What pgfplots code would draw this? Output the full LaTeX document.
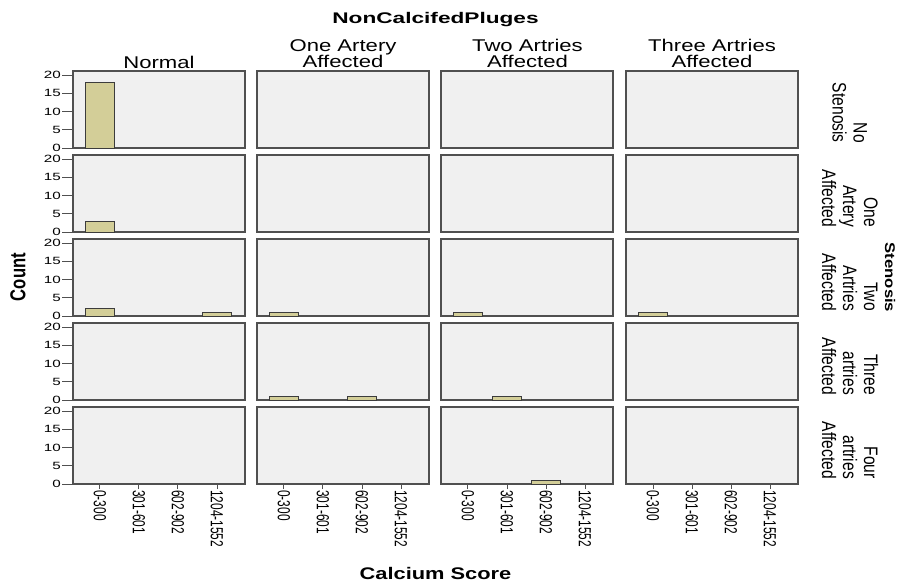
\documentclass[border=0pt]{standalone}
\usepackage{fontspec}
\setmainfont{Liberation Sans}
\usepackage{pgfplots}
\pgfplotsset{compat=1.18}
\newfontfamily\fA[FakeStretch=1.3]{Liberation Sans}
\newfontfamily\fB[FakeStretch=1.47]{Liberation Sans}
\newfontfamily\fY[FakeStretch=1.45]{Liberation Sans}
\newfontfamily\fR[FakeStretch=0.8]{Liberation Sans}
\newfontfamily\fC[FakeStretch=0.77]{Liberation Sans}
\newfontfamily\fX[FakeStretch=0.68]{Liberation Sans}
\newfontfamily\fS[FakeStretch=1.19]{Liberation Sans}
\definecolor{panelbg}{RGB}{240,240,240}
\definecolor{frame}{RGB}{80,80,80}
\definecolor{barfill}{RGB}{211,206,152}
\definecolor{bardraw}{RGB}{60,60,60}
\pgfplotsset{
  panel/.style={scale only axis, width=172pt, height=77pt,
    xmin=-0.692, xmax=3.718, ymin=0, ymax=21.1,
    axis background/.style={fill=panelbg},
    axis line style={draw=frame, line width=1.5pt},
    xtick=\empty, ytick=\empty, ybar, bar width=29pt,
    anchor=north west, clip=false},
  bars/.style={fill=barfill, draw=bardraw, line width=1pt},
  yt/.style={ytick={0,5,10,15,20}, ytick pos=left, tick align=outside, major tick length=11pt,
    ytick style={draw=frame, line width=1pt},
    yticklabel style={font=\fY\fontsize{10.5}{10.5}\selectfont, inner sep=1pt,
      /pgf/number format/assume math mode=true}},
  xtax/.style={scale only axis, width=172pt, height=77pt,
    xmin=-0.692, xmax=3.718, ymin=0, ymax=21.1, anchor=north west,
    axis line style={draw=none}, ytick=\empty,
    xtick={0,1,2,3}, xticklabels={0-300,301-601,602-902,1204-1552},
    xtick pos=bottom, tick align=outside, major tick length=5pt,
    xtick style={draw=frame, line width=1pt},
    xticklabel style={font=\fX\fontsize{17.5}{17.5}\selectfont, rotate=-90, anchor=west, inner sep=1pt}},
}
\newcommand{\pnl}[4]{\begin{axis}[panel, at={(#1pt,-#2pt)}, #3] #4 \end{axis}}
\newcommand{\xtx}[2]{\begin{axis}[xtax, at={(#1pt,-#2pt)}] \end{axis}}
\def\ct{\fA\fontsize{17}{17}\selectfont}
\def\rl{\fR\fontsize{19.5}{19.5}\selectfont}
\begin{document}
\begin{tikzpicture}
% row 1
\pnl{73}{71}{yt}{\addplot[bars] coordinates {(0,18)};}
\pnl{257}{71}{}{}
\pnl{441}{71}{}{}
\pnl{626}{71}{}{}
% row 2
\pnl{73}{155}{yt}{\addplot[bars] coordinates {(0,3)};}
\pnl{257}{155}{}{}
\pnl{441}{155}{}{}
\pnl{626}{155}{}{}
% row 3
\pnl{73}{239}{yt}{\addplot[bars] coordinates {(0,2) (3,1)};}
\pnl{257}{239}{}{\addplot[bars] coordinates {(0,1)};}
\pnl{441}{239}{}{\addplot[bars] coordinates {(0,1)};}
\pnl{626}{239}{}{\addplot[bars] coordinates {(0,1)};}
% row 4
\pnl{73}{323}{yt}{}
\pnl{257}{323}{}{\addplot[bars] coordinates {(0,1) (2,1)};}
\pnl{441}{323}{}{\addplot[bars] coordinates {(1,1)};}
\pnl{626}{323}{}{}
% row 5
\pnl{73}{407}{yt}{}
\pnl{257}{407}{}{}
\pnl{441}{407}{}{\addplot[bars] coordinates {(2,1)};}
\pnl{626}{407}{}{}
\xtx{73}{407}
\xtx{257}{407}
\xtx{441}{407}
\xtx{626}{407}
% titles
\node[font=\fB\bfseries\fontsize{15.4}{15.4}\selectfont, anchor=base, inner sep=0] at (435.5pt,-23pt) {NonCalcifedPluges};
\node[font=\ct, anchor=base, inner sep=0] at (159pt,-68pt) {Normal};
\node[font=\ct, anchor=base, inner sep=0] at (343pt,-51pt) {One Artery};
\node[font=\ct, anchor=base, inner sep=0] at (343pt,-67.5pt) {Affected};
\node[font=\ct, anchor=base, inner sep=0] at (527.5pt,-51pt) {Two Artries};
\node[font=\ct, anchor=base, inner sep=0] at (527.5pt,-67.5pt) {Affected};
\node[font=\ct, anchor=base, inner sep=0] at (712pt,-51pt) {Three Artries};
\node[font=\ct, anchor=base, inner sep=0] at (712pt,-67.5pt) {Affected};
\node[font=\fA\bfseries\fontsize{16.8}{16.8}\selectfont, anchor=base, inner sep=0] at (435.5pt,-579pt) {Calcium Score};
\node[font=\fC\bfseries\fontsize{21.6}{21.6}\selectfont, rotate=90, inner sep=0] at (18pt,-277pt) {Count};
\node[font=\fS\bfseries\fontsize{14}{14}\selectfont, rotate=-90, inner sep=0] at (890pt,-277.5pt) {Stenosis};
% row labels
\node[font=\rl, rotate=-90, anchor=base east, inner sep=0] at (853.5pt,-143pt) {No};
\node[font=\rl, rotate=-90, anchor=base east, inner sep=0] at (832.5pt,-143pt) {Stenosis};
\node[font=\rl, rotate=-90, anchor=base east, inner sep=0] at (864pt,-227pt) {One};
\node[font=\rl, rotate=-90, anchor=base east, inner sep=0] at (843pt,-227pt) {Artery};
\node[font=\rl, rotate=-90, anchor=base east, inner sep=0] at (822pt,-227pt) {Affected};
\node[font=\rl, rotate=-90, anchor=base east, inner sep=0] at (864pt,-311pt) {Two};
\node[font=\rl, rotate=-90, anchor=base east, inner sep=0] at (843pt,-311pt) {Artries};
\node[font=\rl, rotate=-90, anchor=base east, inner sep=0] at (822pt,-311pt) {Affected};
\node[font=\rl, rotate=-90, anchor=base east, inner sep=0] at (864pt,-395pt) {Three};
\node[font=\rl, rotate=-90, anchor=base east, inner sep=0] at (843pt,-395pt) {artries};
\node[font=\rl, rotate=-90, anchor=base east, inner sep=0] at (822pt,-395pt) {Affected};
\node[font=\rl, rotate=-90, anchor=base east, inner sep=0] at (864pt,-479pt) {Four};
\node[font=\rl, rotate=-90, anchor=base east, inner sep=0] at (843pt,-479pt) {artries};
\node[font=\rl, rotate=-90, anchor=base east, inner sep=0] at (822pt,-479pt) {Affected};
\pgfresetboundingbox
\path[use as bounding box] (0pt,0pt) rectangle (904pt,-582pt);
\end{tikzpicture}
\end{document}
